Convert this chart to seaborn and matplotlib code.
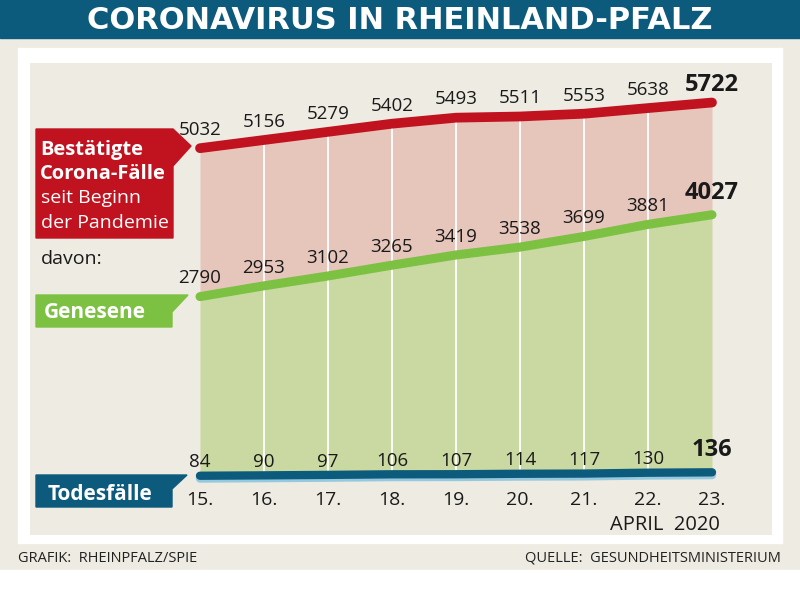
import pandas as pd
import matplotlib.pyplot as plt
import matplotlib.patheffects as pe
from matplotlib.patches import Rectangle, Polygon
import seaborn as sns

sns.set_style('white')
plt.rcParams['font.family'] = ['Open Sans', 'DejaVu Sans']

# %% Data
days = [15, 16, 17, 18, 19, 20, 21, 22, 23]
day_labels = ['15.', '16.', '17.', '18.', '19.', '20.', '21.', '22.', '23.']
confirmed = [5032, 5156, 5279, 5402, 5493, 5511, 5553, 5638, 5722]
recovered = [2790, 2953, 3102, 3265, 3419, 3538, 3699, 3881, 4027]
deaths = [84, 90, 97, 106, 107, 114, 117, 130, 136]

df = pd.DataFrame({'day': days, 'confirmed': confirmed,
                   'recovered': recovered, 'deaths': deaths})

RED = '#c1121f'
PINK = '#e6c6bb'
GREEN = '#7cc142'
LGREEN = '#cad9a2'
BLUE = '#0d5b7c'
LBLUE = '#96c8de'
BEIGE = '#eeebe2'

W, H = 800, 608


def px(x, y):
    return (x / W, 1 - y / H)


fig = plt.figure(figsize=(8, 6.08), dpi=100)
fig.patch.set_facecolor(BEIGE)

# frame pieces
fig.add_artist(Rectangle(px(0, 38), 1, 38 / H, transform=fig.transFigure, color=BLUE, zorder=-5))
fig.add_artist(Rectangle((0, 0), 1, 38 / H, transform=fig.transFigure, color='white', zorder=-5))
fig.add_artist(Rectangle(px(18, 543), 764 / W, 495 / H, transform=fig.transFigure, color='white', zorder=-5))

ax = fig.add_axes([30 / W, 1 - 535 / H, 742 / W, 472 / H])
ax.set_facecolor(BEIGE)
ax.set_xlim(12.344, 23.9375)
ax.set_ylim(-811, 6319)
for s in ax.spines.values():
    s.set_visible(False)
ax.set_xticks([])
ax.set_yticks([])

# areas
ax.fill_between(df['day'], df['recovered'], df['confirmed'], color=PINK, lw=0, zorder=1)
ax.fill_between(df['day'], df['deaths'], df['recovered'], color=LGREEN, lw=0, zorder=1)
ax.vlines(df['day'][1:-1], df['deaths'][1:-1], df['confirmed'][1:-1], color='white', lw=1.3, zorder=2)

# lines
sns.lineplot(data=df, x='day', y='confirmed', ax=ax, color=RED, lw=7,
             solid_capstyle='round', zorder=3)
sns.lineplot(data=df, x='day', y='recovered', ax=ax, color=GREEN, lw=6.5,
             solid_capstyle='round', zorder=3)
sns.lineplot(data=df, x='day', y='deaths', ax=ax, color=BLUE, lw=6,
             solid_capstyle='round', zorder=3,
             path_effects=[pe.SimpleLineShadow(offset=(0, -2), shadow_color=LBLUE, alpha=1), pe.Normal()])
ax.set_xlabel('')
ax.set_ylabel('')

# value labels
for col, off, last_off in [('confirmed', 9.5, 8), ('recovered', 9.5, 11), ('deaths', 6, 11.5)]:
    vals = df[col].tolist()
    for i, (d, v) in enumerate(zip(days, vals)):
        last = i == len(vals) - 1
        ax.annotate(str(v), (d, v), xytext=(0, last_off if last else off),
                    textcoords='offset points', ha='center', va='baseline',
                    fontsize=17 if last else 13.5,
                    fontweight='bold' if last else 'normal',
                    color='#1a1a1a', zorder=4)

# dates
for d, lbl in zip(days, day_labels):
    ax.text(d, (535 - 505) / 472, lbl, transform=ax.get_xaxis_transform(),
            ha='center', va='baseline', fontsize=14, color='#1a1a1a')
fig.text(*px(720, 530), 'APRIL  2020', ha='right', va='baseline', fontsize=14.5, color='#1a1a1a')

# callouts
def callout(points, color):
    fig.add_artist(Polygon([px(x, y) for x, y in points], closed=True,
                           transform=fig.transFigure, color=color, zorder=5))


callout([(36, 129), (173, 129), (191, 146), (173, 166), (173, 238), (36, 238)], RED)
callout([(36, 295), (188, 295), (172, 312), (172, 327), (36, 327)], GREEN)
callout([(36, 475), (187, 475), (172, 489), (172, 507), (36, 507)], BLUE)

fig.text(*px(40, 155), 'Bestätigte', fontsize=14.5, fontweight='bold', color='white', va='baseline', zorder=6)
fig.text(*px(40, 179), 'Corona-Fälle', fontsize=14.5, fontweight='bold', color='white', va='baseline', zorder=6)
fig.text(*px(41, 203), 'seit Beginn', fontsize=14, color='white', va='baseline', zorder=6)
fig.text(*px(41, 228), 'der Pandemie', fontsize=14, color='white', va='baseline', zorder=6)
fig.text(*px(41, 264), 'davon:', fontsize=14, color='#1a1a1a', va='baseline', zorder=6)
fig.text(*px(44, 318), 'Genesene', fontsize=15, fontweight='bold', color='white', va='baseline', zorder=6)
fig.text(*px(48, 500), 'Todesfälle', fontsize=15, fontweight='bold', color='white', va='baseline', zorder=6)

# title and footer
fig.text(*px(400, 29), 'CORONAVIRUS IN RHEINLAND-PFALZ', ha='center', va='baseline',
         fontsize=22, fontweight='bold', color='white', family='DejaVu Sans')
fig.text(*px(18, 562), 'GRAFIK:  RHEINPFALZ/SPIE', va='baseline', fontsize=10.5, color='#222222')
fig.text(*px(781, 562), 'QUELLE:  GESUNDHEITSMINISTERIUM', ha='right', va='baseline', fontsize=10.5, color='#222222')

fig.savefig('out.png', dpi=100, facecolor=fig.get_facecolor())
